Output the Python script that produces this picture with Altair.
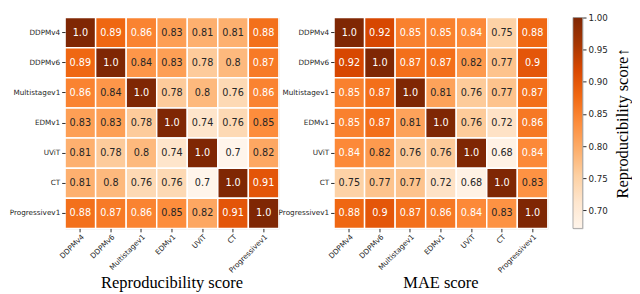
import altair as alt
import pandas as pd

models = ["DDPMv4", "DDPMv6", "Multistagev1", "EDMv1", "UViT", "CT", "Progressivev1"]

repro = [
    [1.0, 0.89, 0.86, 0.83, 0.81, 0.81, 0.88],
    [0.89, 1.0, 0.84, 0.83, 0.78, 0.8, 0.87],
    [0.86, 0.84, 1.0, 0.78, 0.8, 0.76, 0.86],
    [0.83, 0.83, 0.78, 1.0, 0.74, 0.76, 0.85],
    [0.81, 0.78, 0.8, 0.74, 1.0, 0.7, 0.82],
    [0.81, 0.8, 0.76, 0.76, 0.7, 1.0, 0.91],
    [0.88, 0.87, 0.86, 0.85, 0.82, 0.91, 1.0],
]
mae = [
    [1.0, 0.92, 0.85, 0.85, 0.84, 0.75, 0.88],
    [0.92, 1.0, 0.87, 0.87, 0.82, 0.77, 0.9],
    [0.85, 0.87, 1.0, 0.81, 0.76, 0.77, 0.87],
    [0.85, 0.87, 0.81, 1.0, 0.76, 0.72, 0.86],
    [0.84, 0.82, 0.76, 0.76, 1.0, 0.68, 0.84],
    [0.75, 0.77, 0.77, 0.72, 0.68, 1.0, 0.83],
    [0.88, 0.9, 0.87, 0.86, 0.84, 0.83, 1.0],
]
colorbar_ticks = [0.70, 0.75, 0.80, 0.85, 0.90, 0.95, 1.00]
colorbar_range = [0.672, 1.0]

# matplotlib "Oranges" colour stops
oranges = ["#fff5eb", "#fee6ce", "#fdd0a2", "#fdae6b", "#fd8d3c",
           "#f16913", "#d94801", "#a63603", "#7f2704"]

W = 221
H = 218
LABEL_FONT = "DejaVu Sans"
TXT = "#262626"


def stops(vmin, vmax):
    n = len(oranges) - 1
    return [vmin + (vmax - vmin) * k / n for k in range(n + 1)]


def frame(mat, vmin):
    rows = []
    for i, r in enumerate(models):
        for j, c in enumerate(models):
            v = mat[i][j]
            t = (v - vmin) / (1.0 - vmin)
            rows.append({"row": r, "col": c, "v": v, "label": f"{v}",
                         "tc": "white" if t > 0.505 else TXT})
    return pd.DataFrame(rows)


def panel(mat, vmin, title):
    df = frame(mat, vmin)
    base = alt.Chart(df)
    xenc = alt.X("col:N", sort=models, title=None,
                 scale=alt.Scale(paddingInner=0, paddingOuter=0),
                 axis=alt.Axis(labelAngle=315, labelAlign="right", labelBaseline="top",
                               labelFont=LABEL_FONT, labelFontSize=7.5, labelColor=TXT,
                               tickSize=3.5, tickColor=TXT, domain=False, labelPadding=1))
    yenc = alt.Y("row:N", sort=models, title=None,
                 scale=alt.Scale(paddingInner=0, paddingOuter=0),
                 axis=alt.Axis(labelFont=LABEL_FONT, labelFontSize=7.5, labelColor=TXT,
                               tickSize=3.5, tickColor=TXT, domain=False, labelPadding=2))
    rect = base.mark_rect(stroke="white", strokeWidth=1.5).encode(
        x=xenc, y=yenc,
        color=alt.Color("v:Q", legend=None,
                        scale=alt.Scale(domain=stops(vmin, 1.0), range=oranges,
                                        interpolate="rgb")))
    text = base.mark_text(font=LABEL_FONT, fontSize=10).encode(
        x=alt.X("col:N", sort=models), y=alt.Y("row:N", sort=models),
        text="label:N", color=alt.Color("tc:N", scale=None))
    return alt.layer(rect, text).resolve_scale(color="independent").properties(
        width=W, height=H,
        title=alt.TitleParams(title, orient="bottom", font="Liberation Serif", fontSize=17,
                              fontWeight="normal", color="black", offset=2))


left = panel(repro, 0.70, "Reproducibility score")
right = panel(mae, colorbar_range[0], "MAE score")

grad = alt.Gradient(
    gradient="linear", x1=0, x2=0, y1=1, y2=0,
    stops=[alt.GradientStop(offset=k / (len(oranges) - 1), color=c) for k, c in enumerate(oranges)])

cbar_df = pd.DataFrame({"lo": [colorbar_range[0]], "hi": [colorbar_range[1]]})
cbar = alt.Chart(cbar_df).mark_rect(fill=grad, stroke="#999999", strokeWidth=0.8).encode(
    y=alt.Y("lo:Q", scale=alt.Scale(domain=colorbar_range, nice=False, zero=False),
            axis=alt.Axis(orient="right", values=colorbar_ticks, format=".2f",
                          labelFont=LABEL_FONT, labelFontSize=9, labelColor=TXT,
                          tickSize=3.5, tickColor=TXT, domain=False, grid=False, labelPadding=2,
                          title="Reproducibility score\u2191", titleAngle=270, titleBaseline="top",
                          titleFont="Liberation Serif", titleFontSize=17,
                          titleFontWeight="normal", titleColor="black", titlePadding=8)),
    y2="hi:Q",
    x=alt.value(0), x2=alt.value(10),
).properties(width=10, height=H)

chart = alt.hconcat(
    left,
    alt.hconcat(right, cbar, spacing=23),
    spacing=-4,
).resolve_scale(color="independent").properties(
    padding={"left": 0, "top": 0, "right": 0, "bottom": 0}
).configure_view(stroke=None).configure(background="white")

chart.save("out.html", embed_options={"renderer": "svg", "actions": False})
